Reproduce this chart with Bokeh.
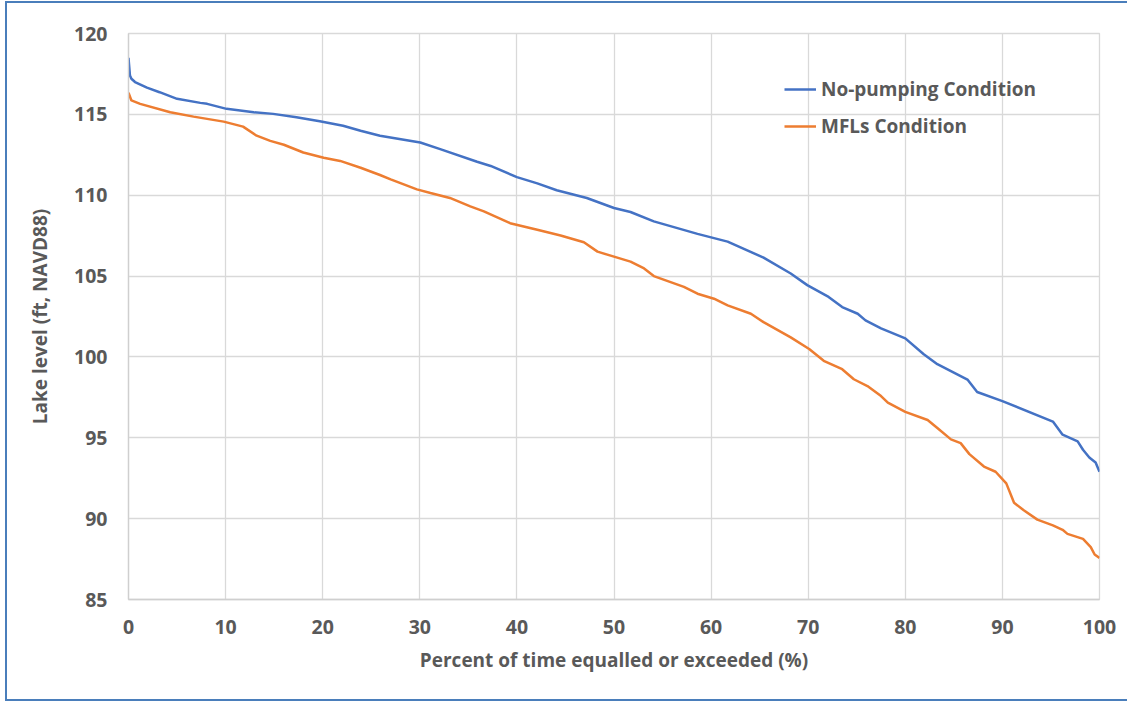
from bokeh.plotting import figure
from bokeh.models import Range1d, FixedTicker, Legend, LegendItem
from bokeh.embed import file_html
from bokeh.resources import INLINE

# Percent of time equalled or exceeded (%) and lake level (ft, NAVD88)
pct_nopump = [0, 0.15, 0.3, 0.67, 1.9, 3.2, 5.0, 7.4, 8.1, 10.1,
              12.9, 14.9, 17.3, 19.7, 22.1, 23.9, 25.9, 30.05, 32.1, 35.9,
              37.3, 40.0, 42.1, 44.1, 47.2, 50.0, 51.7, 54.1, 58.6, 61.7,
              65.4, 68.2, 69.9, 72.1, 73.5, 75.1, 75.9, 77.5, 80.0, 81.9,
              83.3, 86.4, 87.4, 90.0, 95.2, 96.2, 97.75, 98.3, 98.95, 99.6,
              100]
lvl_nopump = [118.5, 117.4, 117.2, 117.0, 116.65, 116.37, 115.96, 115.71, 115.65, 115.34,
              115.13, 115.03, 114.82, 114.57, 114.3, 113.99, 113.68, 113.26, 112.85, 112.07,
              111.81, 111.12, 110.73, 110.31, 109.83, 109.21, 108.96, 108.38, 107.61, 107.13,
              106.14, 105.16, 104.44, 103.71, 103.08, 102.67, 102.26, 101.77, 101.15, 100.17,
              99.55, 98.6, 97.83, 97.27, 96.0, 95.19, 94.78, 94.26, 93.78, 93.47,
              92.9]

pct_mfl = [0, 0.3, 1.2, 4.3, 6.7, 9.8, 11.8, 13.2, 14.6, 16.0,
           18.0, 20.1, 21.8, 23.9, 25.9, 27.0, 29.7, 31.1, 33.1, 35.2,
           36.6, 39.3, 42.1, 44.5, 46.9, 48.3, 50.0, 51.7, 53.1, 54.1,
           57.2, 58.6, 60.3, 61.7, 64.1, 65.4, 68.2, 70.1, 71.6, 73.5,
           74.7, 76.1, 77.5, 78.2, 80.0, 82.3, 83.3, 84.7, 85.7, 86.6,
           88.1, 89.3, 90.4, 91.2, 92.2, 93.6, 95.2, 96.2, 96.7, 98.3,
           99.1, 99.5, 100]
lvl_mfl = [116.34, 115.86, 115.65, 115.13, 114.86, 114.55, 114.24, 113.68, 113.36, 113.12,
           112.64, 112.32, 112.12, 111.7, 111.25, 110.98, 110.36, 110.14, 109.83, 109.31,
           109.0, 108.27, 107.86, 107.51, 107.09, 106.51, 106.2, 105.89, 105.47, 105.0,
           104.33, 103.91, 103.6, 103.19, 102.67, 102.15, 101.21, 100.49, 99.76, 99.24,
           98.62, 98.2, 97.58, 97.17, 96.6, 96.1, 95.6, 94.9, 94.67, 93.99,
           93.22, 92.9, 92.18, 90.98, 90.52, 89.94, 89.58, 89.31, 89.06, 88.75,
           88.24, 87.78, 87.57]

x_ticks = [0, 10, 20, 30, 40, 50, 60, 70, 80, 90, 100]
y_ticks = [85, 90, 95, 100, 105, 110, 115, 120]
series_names = ["No-pumping Condition", "MFLs Condition"]

FONT = "Open Sans"
GRAY = "#595959"

p = figure(width=1122, height=700, output_backend="svg", toolbar_location=None,
           x_range=Range1d(0, 100), y_range=Range1d(85, 120),
           min_border_left=121, min_border_right=30, min_border_top=30, min_border_bottom=104)
p.margin = (1, 0, 0, 5)
p.styles = {"border-left": "2px solid #4a7ebb", "border-top": "2px solid #4a7ebb",
            "border-bottom": "2px solid #4a7ebb"}

p.outline_line_color = "#d9d9d9"
p.outline_line_width = 1.3
for g, t in ((p.xgrid, x_ticks), (p.ygrid, y_ticks)):
    g.ticker = FixedTicker(ticks=t)
    g.grid_line_color = "#d9d9d9"
    g.grid_line_width = 1.3

p.xaxis.ticker = FixedTicker(ticks=x_ticks)
p.yaxis.ticker = FixedTicker(ticks=y_ticks)
for ax in (p.xaxis[0], p.yaxis[0]):
    ax.axis_line_color = "#cfcfcf"
    ax.axis_line_width = 1.3
    ax.major_tick_line_color = None
    ax.minor_tick_line_color = None
    ax.major_tick_out = 0
    ax.major_tick_in = 0
    ax.major_label_text_font = FONT
    ax.major_label_text_font_size = "19.5px"
    ax.major_label_text_font_style = "bold"
    ax.major_label_text_color = GRAY
    ax.axis_label_text_font = FONT
    ax.axis_label_text_font_size = "19px"
    ax.axis_label_text_font_style = "bold"
    ax.axis_label_text_color = GRAY

p.xaxis.axis_label = "Percent of time equalled or exceeded (%)"
p.yaxis.axis_label = "Lake level (ft, NAVD88)"
p.yaxis.major_label_standoff = 21
p.xaxis.major_label_standoff = 20
p.yaxis.axis_label_standoff = 18
p.xaxis.axis_label_standoff = 10

r1 = p.line(pct_nopump, lvl_nopump, line_color="#4472C4", line_width=2.5)
r2 = p.line(pct_mfl, lvl_mfl, line_color="#ED7D31", line_width=2.5)

legend = Legend(items=[LegendItem(label=series_names[0], renderers=[r1]),
                       LegendItem(label=series_names[1], renderers=[r2])],
                location=(656, 460), padding=0, margin=0, spacing=11,
                glyph_width=32, glyph_height=24, label_height=24, label_standoff=5,
                label_text_font=FONT, label_text_font_size="19px",
                label_text_font_style="bold", label_text_color=GRAY,
                background_fill_alpha=0, border_line_color=None)
p.add_layout(legend, "center")

open("out.html", "w").write(file_html(p, INLINE))
